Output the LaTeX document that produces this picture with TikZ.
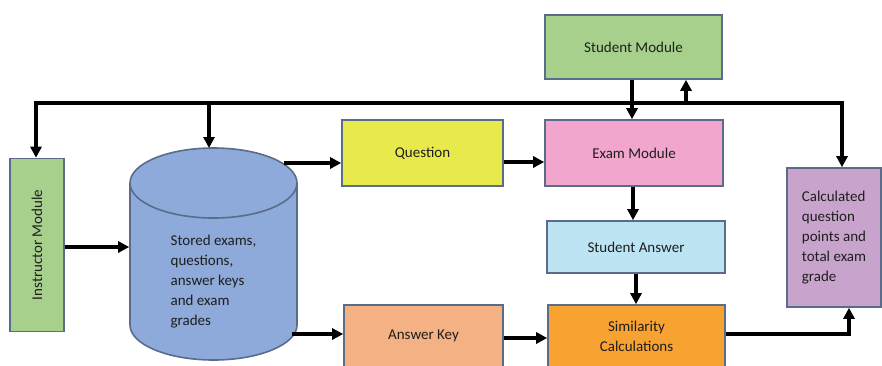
\documentclass[tikz,border=0pt]{standalone}
\usepackage{fontspec}
\setmainfont{Carlito}
\usetikzlibrary{arrows.meta,calc}
\definecolor{bordc}{HTML}{5A6C8A}
\definecolor{grn}{HTML}{A8D08D}
\definecolor{ylw}{HTML}{E8EA4C}
\definecolor{pnk}{HTML}{F2A6CE}
\definecolor{lblu}{HTML}{BDE4F2}
\definecolor{orng}{HTML}{F8A231}
\definecolor{slmn}{HTML}{F4B183}
\definecolor{dbblu}{HTML}{8EAADB}
\definecolor{prpl}{HTML}{C8A4CC}
\definecolor{txt}{HTML}{1E1E1E}
\begin{document}
\begin{tikzpicture}[x=1pt,y=-1pt,
  box/.style={draw=bordc,line width=1.6pt,inner sep=0pt,text=txt,
    font=\fontsize{15}{20}\selectfont,align=center},
  conn/.style={line width=3.6pt,black},
  arr/.style={conn,-{Triangle[length=11pt,width=11pt]}}]
\useasboundingbox (0,0) rectangle (882,365);
\begin{scope}
\clip (0,0) rectangle (882,365);

% boxes
\node[box,fill=grn,minimum width=54pt,minimum height=173pt] (instr) at (37,245)
  {\rotatebox{90}{Instructor Module}};
\node[box,fill=grn,minimum width=177pt,minimum height=64pt] (sm) at (633.5,47) {Student Module};
\node[box,fill=ylw,minimum width=161pt,minimum height=66pt] (q) at (422.5,153) {Question};
\node[box,fill=pnk,minimum width=178pt,minimum height=66pt] (exam) at (634,153) {Exam Module};
\node[box,fill=lblu,minimum width=178pt,minimum height=52pt] (sa) at (636,247) {Student Answer};
\node[box,fill=orng,minimum width=177pt,minimum height=62pt] (sim) at (636.5,336) {Similarity\\Calculations};
\node[box,fill=slmn,minimum width=159pt,minimum height=62pt] (ak) at (423.5,336) {Answer Key};
\node[box,fill=prpl,minimum width=94pt,minimum height=139pt,align=left] (calc) at (834,237.5)
  {Calculated\\question\\points and\\total exam\\grade};

% database cylinder
\fill[dbblu,draw=bordc,line width=1.6pt] (213.5,325) ellipse[x radius=83.5,y radius=35];
\fill[dbblu] (130,183) rectangle (297,325);
\draw[bordc,line width=1.6pt] (130,183) -- (130,325) (297,183) -- (297,325);
\fill[dbblu,draw=bordc,line width=1.6pt] (213.5,183) ellipse[x radius=83.5,y radius=35];
\node[box,draw=none,fill=none,minimum width=167pt,minimum height=213pt] (db) at (213.5,253.5) {};
\node[text=txt,font=\fontsize{15}{20}\selectfont,align=left,inner sep=0pt] (dbtext) at (213.5,282)
  {Stored exams,\\questions,\\answer keys\\and exam\\grades};

% bus along the top
\coordinate (busl) at (36,103);
\coordinate (busr) at (842,103);
\coordinate (busdb) at (209,103);
\coordinate (busup) at (686,103);
\draw[conn,line join=miter] (busl |- instr.north) ++(0,-14) -- (busl) -- (busr) -- ++(0,12);
\draw[arr] (busl) -- (busl |- instr.north);
\draw[arr] (busdb) -- (209,148);
\draw[arr] (busr) -- (busr |- calc.north);
\draw[arr] (busup) -- (busup |- sm.south);
\draw[arr] ([xshift=-1.5pt]sm.south) -- ([xshift=-1.5pt]sm.south |- exam.north);

% flow
\draw[arr] ([yshift=-2pt]instr.east) -- ([yshift=-2pt]instr.east -| db.west);
\coordinate (dbq) at (284,163);
\draw[arr] (dbq) -- (dbq -| q.west);
\draw[arr] ([yshift=-9pt]q.east) -- ([yshift=-9pt]exam.west);
\draw[arr] ([xshift=-1pt]exam.south) -- ([xshift=-1pt]exam.south |- sa.north);
\draw[arr] (sa.south) -- (sa.south |- sim.north);
\coordinate (dba) at (292,334);
\draw[arr] (dba) -- (dba -| ak.west);
\draw[arr] ([yshift=-2pt]ak.east) -- ([yshift=-2pt]sim.west);
\draw[arr,line join=miter] ([yshift=2pt]sim.east) -| ([xshift=15pt]calc.south);
\end{scope}
\end{tikzpicture}
\end{document}
